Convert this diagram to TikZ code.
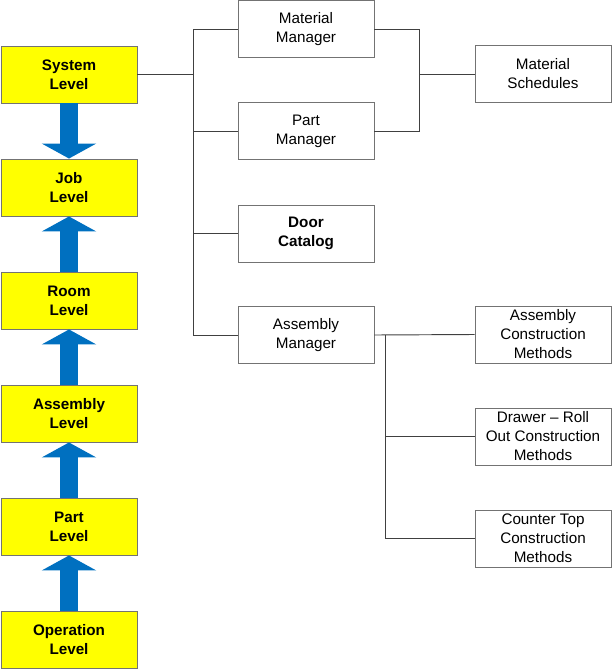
\documentclass[tikz,border=0pt]{standalone}
\usepackage{fontspec}
\setmainfont{Liberation Sans}
\usetikzlibrary{arrows.meta}
\definecolor{levelyellow}{RGB}{255,255,0}
\tikzset{
    level/.style = {rectangle, minimum width=4.08cm, minimum height=1.71cm, inner sep=0pt, align=center, draw=black!55, line width=0.8pt, fill=levelyellow, font=\fontsize{13}{16.2}\selectfont\bfseries},
    module/.style = {rectangle, minimum width=4.08cm, minimum height=1.71cm, inner sep=0pt, align=center, draw=black!55, line width=0.8pt, fill=white, font=\fontsize{13}{16.2}\selectfont},
    link/.style = {draw=black!75, line width=0.8pt},
    flow/.style = {draw={rgb,255:red,0;green,112;blue,192}, line width=0.54cm, -{Triangle[width=1.62cm, length=0.45cm]}}
}

\begin{document}
\begin{tikzpicture}[x=0.03cm, y=-0.03cm]
	\useasboundingbox (0,0) rectangle (614,671);

	\node[level] (sys) at (69, 74.5) {System\\Level};
	\node[level] (job) at (69, 187.5) {Job\\Level};
	\node[level] (room) at (69, 300.5) {Room\\Level};
	\node[level] (asm) at (69, 413.5) {Assembly\\Level};
	\node[level] (part) at (69, 526.5) {Part\\Level};
	\node[level] (oper) at (69, 639.5) {Operation\\Level};

	\draw[flow] (sys.south) -- (job.north);
	\draw[flow] (room.north) -- (job.south);
	\draw[flow] (asm.north) -- (room.south);
	\draw[flow] (part.north) -- (asm.south);
	\draw[flow] (oper.north) -- (part.south);

	\node[module] (matman) at (306, 29) {Material\\Manager};
	\node[module] (partman) at (306, 131) {Part\\Manager};
	\node[module, font=\fontsize{13}{16.2}\selectfont\bfseries] (door) at (306, 233.5) {Door\\Catalog};
	\node[module] (asmman) at (306, 335) {Assembly\\Manager};

	\node[module] (matsched) at (543, 74) {Material\\Schedules};
	\node[module] (asmcons) at (543, 334.5) {Assembly\\Construction\\Methods};
	\node[module] (drawer) at (543, 436.5) {Drawer -- Roll\\Out Construction\\Methods};
	\node[module] (ctop) at (543, 538.5) {Counter Top\\Construction\\Methods};

	\coordinate (trunk) at (193, 0);
	\coordinate (merge) at (419, 0);
	\coordinate (branch) at (385, 0);

	\draw[link] (sys.east) -- (sys.east -| trunk);
	\draw[link] (matman.west) -| (trunk |- asmman.west) -- (asmman.west);
	\draw[link] (partman.west) -- (partman.west -| trunk);
	\draw[link] (door.west) -- (door.west -| trunk);

	\draw[link] (matman.east) -| (merge |- partman.east) -- (partman.east);
	\draw[link] (merge |- matsched.west) -- (matsched.west);

	\draw[link] (asmman.east) -- (asmcons.west);
	\draw[link] (branch |- asmman.east) -- (branch |- ctop.west) -- (ctop.west);
	\draw[link] (branch |- drawer.west) -- (drawer.west);
\end{tikzpicture}
\end{document}
